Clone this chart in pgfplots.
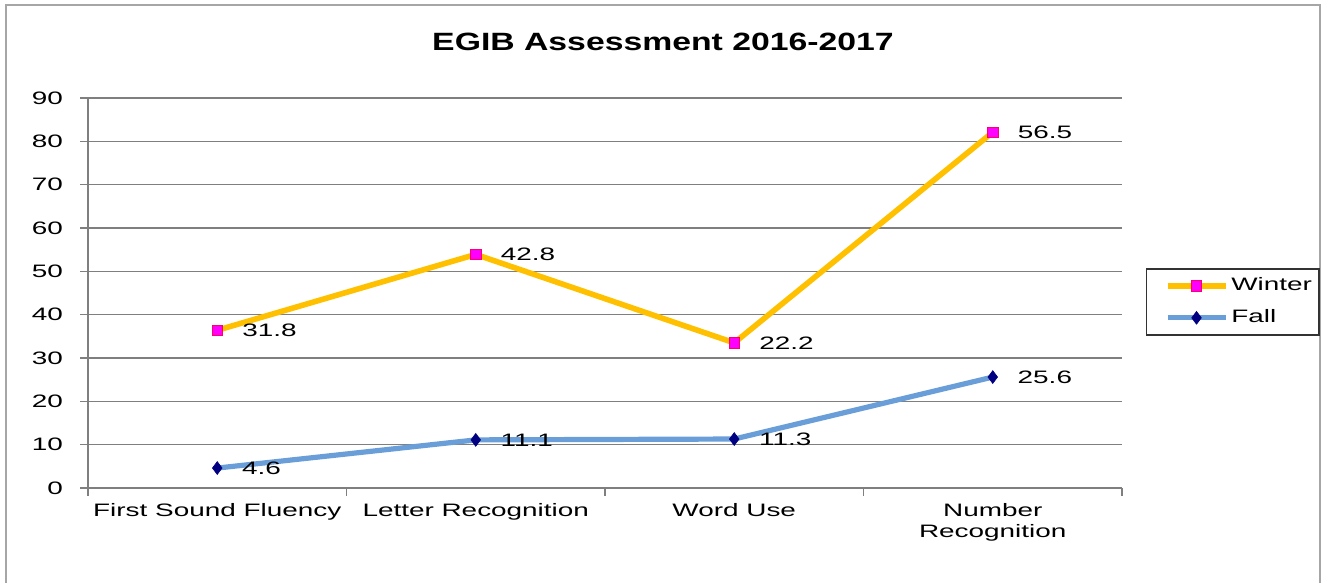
\documentclass[border=0pt]{standalone}
\usepackage{fontspec}
\setmainfont{Liberation Sans}[FakeStretch=1.55]
\newfontfamily\titlefont{Liberation Sans}[FakeStretch=1.35]
\usepackage{pgfplots}
\pgfplotsset{compat=1.18}
\definecolor{winterline}{HTML}{FFC000}
\definecolor{wintermark}{HTML}{FF00FF}
\definecolor{fallline}{HTML}{6A9ED8}
\definecolor{fallmark}{HTML}{000080}
\definecolor{gridgray}{HTML}{7F7F7F}
\begin{document}
\begin{tikzpicture}[font=\fontsize{9}{10.5}\selectfont]
\useasboundingbox (-44pt,-47.5pt) rectangle (618pt,244pt);
% chart frame (bottom edge is cut off in the original)
\draw[gray!70, line width=0.9pt] (-41pt,-50pt) -- (-41pt,241.5pt) -- (616pt,241.5pt) -- (616pt,-50pt);
\node[font=\titlefont\bfseries\fontsize{12.5}{14}\selectfont] at (287.5pt,223pt) {EGIB Assessment 2016-2017};
\begin{axis}[
  scale only axis, width=517pt, height=195pt,
  xmin=-0.5, xmax=3.5, ymin=0, ymax=90,
  ytick={0,10,...,90},
  xtick={-0.5,0.5,...,3.5}, xticklabels={},
  extra x ticks={0,1,2,3},
  extra x tick labels={First Sound Fluency, Letter Recognition, Word Use, Number\\Recognition},
  extra x tick style={tick style={draw=none}},
  xticklabel style={align=center, font=\fontsize{9}{10.5}\selectfont},
  yticklabel style={font=\fontsize{9}{10.5}\selectfont, xshift=-5pt},
  /pgf/number format/assume math mode=true,
  axis x line=bottom, axis y line=left,
  axis line style={-, draw=gridgray, line width=0.75pt},
  tick align=outside, tick style={draw=gridgray, line width=0.75pt},
  major tick length=4pt,
  ymajorgrids, grid style={draw=gridgray, line width=0.75pt},
  stack plots=y,
  nodes near coords, point meta=explicit symbolic,
  every node near coord/.append style={anchor=west, xshift=9pt, text=black, font=\fontsize{9}{10.5}\selectfont},
  legend style={at={(1.0232,0.5641)}, anchor=north west, draw=black!80, line width=0.75pt,
    font=\fontsize{9}{10.5}\selectfont, row sep=4pt, inner xsep=2pt, inner ysep=2.5pt,
    nodes={inner xsep=1.5pt}},
  legend cell align=left,
  reverse legend,
  legend image code/.code={\path (0pt,0pt); \draw[mark repeat=2,mark phase=2,#1] plot coordinates {(7pt,0pt)(21.5pt,0pt)(36pt,0pt)};},
]
\addplot[fallline, line width=2.6pt, mark=diamond*, mark size=3.2pt,
  mark options={fill=fallmark, draw=fallmark, line width=0.3pt}]
  coordinates {(0,4.6)[4.6] (1,11.1)[11.1] (2,11.3)[11.3] (3,25.6)[25.6]};
\addlegendentry{Fall}
\addplot[winterline, line width=2.8pt, mark=square*, mark size=2.6pt,
  mark options={fill=wintermark, draw=red!60!wintermark, line width=0.4pt}]
  coordinates {(0,31.8)[31.8] (1,42.8)[42.8] (2,22.2)[22.2] (3,56.5)[56.5]};
\addlegendentry{Winter}
\end{axis}
\end{tikzpicture}
\end{document}
